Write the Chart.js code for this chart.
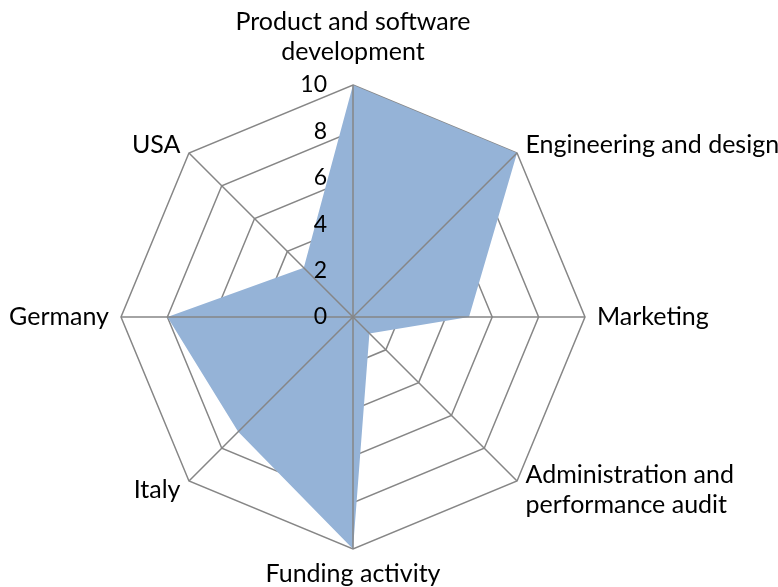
<!DOCTYPE html>
<html><head><meta charset="utf-8">
<script src="https://cdn.jsdelivr.net/npm/chart.js@4/dist/chart.umd.min.js"></script>
<style>
html,body{margin:0;padding:0;background:#fff;overflow:hidden;width:778px;height:587px;}
#wrap{position:absolute;left:-37px;top:-12px;width:856px;height:620px;}
</style>
</head><body><div id="wrap"><canvas id="c"></canvas></div>
<script>
const categories = [["Product and software","development"],"Engineering and design","Marketing",["Administration and","performance audit"],"Funding activity","Italy","Germany","USA"];
const values = [10,10,5,1,10,7,8,3];
const tickValues = [0,2,4,6,8,10];

const FONT = 'Lato, "Liberation Sans", sans-serif';
const GRID = '#868686';

const overlay = {
  id: 'overlay',
  afterLayout(chart) {
    // centre diagonal labels vertically on their spoke end (as in the original)
    const s = chart.scales.r;
    const items = s._pointLabelItems || [];
    items.forEach((it, i) => {
      const ang = Math.round(s.getIndexAngle(i) * 180 / Math.PI) % 360;
      const h = it.bottom - it.top;
      let dy = 0;
      if (ang > 0 && ang < 90) dy = h / 2;
      else if (ang > 270) dy = h / 2;
      else if (ang > 90 && ang < 180) dy = -h / 2;
      else if (ang > 180 && ang < 270) dy = -h / 2;
      it.y += dy; it.top += dy; it.bottom += dy;
    });
  },
  beforeDatasetDraw(chart) {
    const ctx = chart.ctx;
    ctx.save();
    ctx.shadowColor = 'rgba(0,0,0,0.35)';
    ctx.shadowBlur = 5;
    ctx.shadowOffsetX = 3;
    ctx.shadowOffsetY = 3;
  },
  afterDatasetDraw(chart) {
    chart.ctx.restore();
  },
  afterDatasetsDraw(chart) {
    const s = chart.scales.r, ctx = chart.ctx;
    ctx.save();
    ctx.strokeStyle = GRID; ctx.lineWidth = 1.5;
    for (let i = 0; i < categories.length; i++) {
      const p = s.getPointPositionForValue(i, s.max);
      ctx.beginPath(); ctx.moveTo(s.xCenter, s.yCenter); ctx.lineTo(p.x, p.y); ctx.stroke();
    }
    ctx.fillStyle = '#000';
    ctx.font = '23px ' + FONT;
    ctx.textAlign = 'right'; ctx.textBaseline = 'middle';
    tickValues.forEach(v => {
      const d = s.getDistanceFromCenterForValue(v);
      ctx.fillText(String(v), s.xCenter - 26, s.yCenter - d);
    });
    ctx.restore();
  }
};

new Chart(document.getElementById('c'), {
  type: 'radar',
  data: {
    labels: categories,
    datasets: [{
      data: values,
      backgroundColor: '#95B3D7',
      borderWidth: 0,
      borderColor: 'rgba(0,0,0,0)',
      fill: true,
      pointRadius: 0,
      tension: 0
    }]
  },
  options: {
    responsive: true,
    maintainAspectRatio: false,
    animation: false,
    layout: { padding: 0 },
    plugins: { legend: { display: false }, tooltip: { enabled: false } },
    scales: {
      r: {
        min: 0, max: 10,
        ticks: { stepSize: 2, display: false },
        grid: { color: GRID, lineWidth: 1.5 },
        angleLines: { display: false },
        pointLabels: {
          color: '#000',
          font: { family: FONT, size: 25, lineHeight: 1.2 },
          padding: (c) => c.index === 0 ? 18 : (c.index === 4 ? 10 : 12)
        }
      }
    }
  },
  plugins: [overlay]
});
</script></body></html>
